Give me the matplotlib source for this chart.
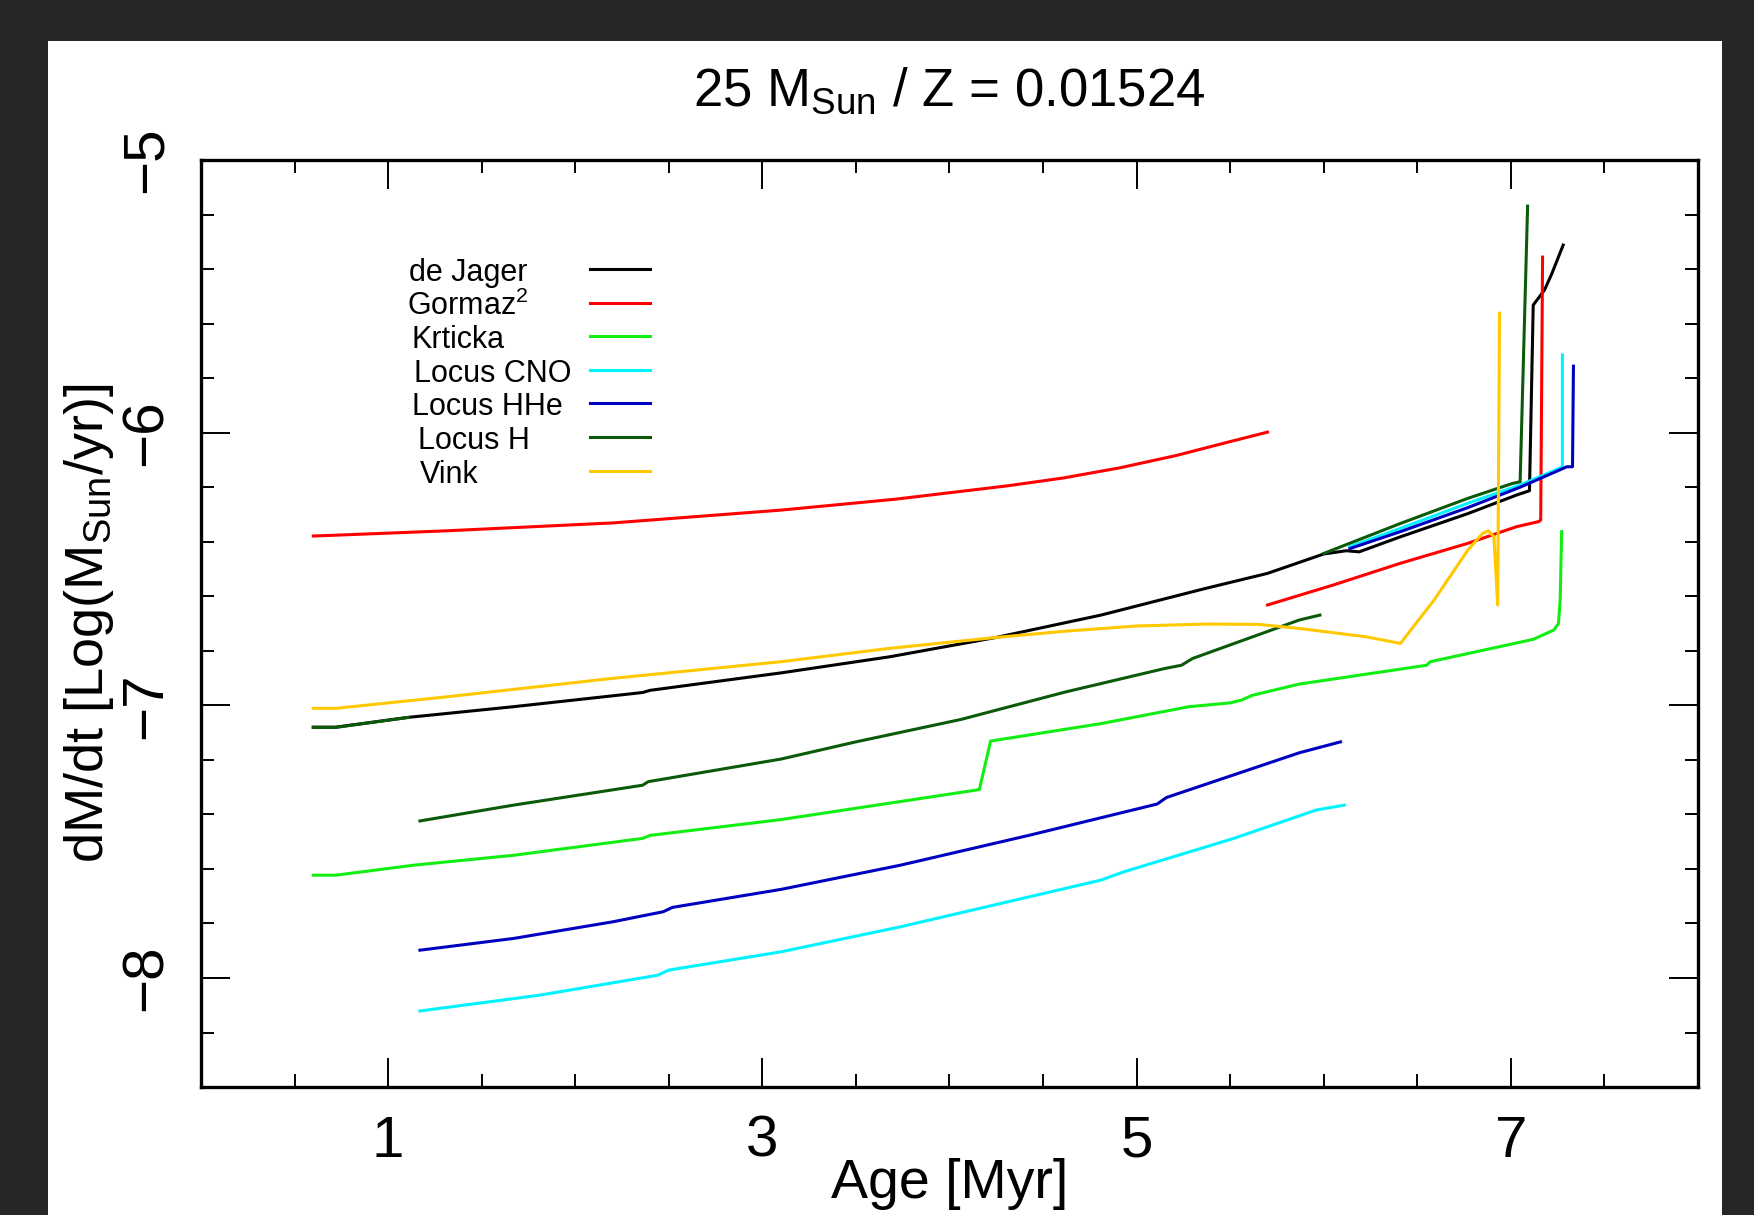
import numpy as np
import matplotlib.pyplot as plt
from matplotlib.patches import Rectangle
from matplotlib.ticker import MultipleLocator

plt.rcParams['font.family'] = ['Liberation Sans', 'DejaVu Sans']
plt.rcParams['mathtext.fontset'] = 'custom'
plt.rcParams['mathtext.rm'] = 'Liberation Sans'
plt.rcParams['mathtext.it'] = 'Liberation Sans:italic'
plt.rcParams['axes.unicode_minus'] = True

nan = np.nan

# series (age in Myr, log mass loss), nan = gap
dejager_age = [0.60, 0.72, 1.11, 1.67, 2.36, 2.40, 3.10, 3.68, 4.25, 4.81, 5.37, 5.70, 6.00,
               6.12, 6.19, 6.41, 6.77, 7.03, 7.10, 7.12, 7.18, 7.22, 7.28]
dejager_mdot = [-7.08, -7.08, -7.044, -7.005, -6.953, -6.945, -6.881, -6.822, -6.751, -6.669,
                -6.571, -6.516, -6.445, -6.433, -6.437, -6.382, -6.297, -6.229, -6.213, -5.532,
                -5.477, -5.416, -5.312]

gormaz_age = [0.60, 0.72, 1.31, 2.20, 3.10, 3.71, 4.31, 4.61, 4.91, 5.21, 5.51, 5.70, nan,
              5.70, 6.05, 6.41, 6.77, 7.03, 7.15, 7.16, 7.17]
gormaz_mdot = [-6.379, -6.376, -6.360, -6.331, -6.284, -6.244, -6.195, -6.166, -6.129, -6.084,
               -6.031, -5.998, nan,
               -6.632, -6.559, -6.479, -6.406, -6.345, -6.326, -6.320, -5.356]

krticka_age = [0.60, 0.72, 1.14, 1.67, 2.36, 2.40, 3.10, 4.16, 4.22, 4.81, 5.28, 5.50, 5.56,
               5.62, 5.87, 6.55, 6.57, 7.12, 7.23, 7.255, 7.264, 7.272]
krticka_mdot = [-7.623, -7.623, -7.586, -7.550, -7.488, -7.477, -7.419, -7.309, -7.131, -7.067,
                -7.005, -6.991, -6.981, -6.963, -6.922, -6.853, -6.840, -6.758, -6.724, -6.700,
                -6.614, -6.363]

cno_age = [1.17, 1.81, 2.44, 2.50, 3.10, 3.74, 4.81, 4.93, 5.52, 5.96, 6.11, nan,
           6.14, 6.41, 6.77, 7.05, 7.26, 7.276, 7.276]
cno_mdot = [-8.121, -8.063, -7.990, -7.971, -7.904, -7.812, -7.641, -7.611, -7.488, -7.384,
            -7.366, nan,
            -6.418, -6.351, -6.259, -6.192, -6.131, -6.125, -5.715]

hhe_age = [1.17, 1.67, 2.20, 2.47, 2.52, 3.10, 3.74, 4.43, 5.11, 5.16, 5.87, 6.09, nan,
           6.14, 6.41, 6.77, 7.05, 7.30, 7.33, 7.335]
hhe_mdot = [-7.898, -7.855, -7.794, -7.757, -7.741, -7.675, -7.586, -7.476, -7.362, -7.338,
            -7.174, -7.134, nan,
            -6.425, -6.363, -6.275, -6.200, -6.125, -6.125, -5.756]

locush_age = [0.60, 0.72, 1.11, nan,
              1.17, 1.67, 2.36, 2.39, 3.10, 3.50, 4.06, 4.62, 5.15, 5.24, 5.30, 5.87, 5.98, nan,
              6.00, 6.41, 6.77, 7.01, 7.05, 7.09]
locush_mdot = [-7.081, -7.081, -7.044, nan,
               -7.424, -7.366, -7.293, -7.280, -7.197, -7.134, -7.052, -6.951, -6.865, -6.853,
               -6.828, -6.687, -6.669, nan,
               -6.443, -6.333, -6.241, -6.186, -6.180, -5.169]

vink_age = [0.60, 0.72, 1.31, 2.20, 3.10, 3.68, 4.25, 4.62, 5.00, 5.37, 5.65, 5.87, 6.23,
            6.41, 6.59, 6.77, 6.85, 6.88, 6.91, 6.93, 6.94]
vink_mdot = [-7.011, -7.011, -6.969, -6.901, -6.840, -6.791, -6.751, -6.728, -6.709, -6.702,
             -6.703, -6.718, -6.749, -6.773, -6.614, -6.431, -6.369, -6.360, -6.382, -6.632,
             -5.562]

labels = ['de Jager', 'Gormaz$^2$', 'Krticka', 'Locus CNO', 'Locus HHe', 'Locus H', 'Vink']
colors = ['#000000', '#ff0000', '#11ee11', '#00f4ff', '#0000c0', '#0a5a0a', '#ffc800']
ages = [dejager_age, gormaz_age, krticka_age, cno_age, hhe_age, locush_age, vink_age]
mdots = [dejager_mdot, gormaz_mdot, krticka_mdot, cno_mdot, hhe_mdot, locush_mdot, vink_mdot]

fig = plt.figure(figsize=(17.54, 12.15), dpi=100, facecolor='#262626')
fig.add_artist(Rectangle((0.0274, 0.0), 0.9544, 0.9663, transform=fig.transFigure,
                         facecolor='white', edgecolor='none', zorder=-5))
ax = fig.add_axes([0.1146, 0.1053, 0.8534, 0.763])

for a, m, c in zip(ages, mdots, colors):
    ax.plot(a, m, color=c, lw=2.2)

# key: names on the left, line samples on the right
text_shift = [0.0, -0.0013, 0.0013, 0.0033, 0.002, 0.006, 0.0073]
for i, (lab, c) in enumerate(zip(labels, colors)):
    yk = 0.8824 - i * 0.03625
    ax.plot([0.2599, 0.2999], [yk, yk], color=c, lw=2.2, transform=ax.transAxes)
    ax.text(0.139 + text_shift[i], yk - 0.0128, lab, fontsize=22, ha='left', va='baseline',
            transform=ax.transAxes)

ax.set_xlim(0, 8)
ax.set_ylim(-8.4, -5)
ax.xaxis.set_major_locator(MultipleLocator(2))
ax.xaxis.set_minor_locator(MultipleLocator(0.5))
ax.set_xticks([1, 3, 5, 7])
ax.yaxis.set_major_locator(MultipleLocator(1))
ax.yaxis.set_minor_locator(MultipleLocator(0.2))

ax.tick_params(which='both', direction='in', top=True, right=True)
ax.tick_params(which='major', length=21, width=1.4, labelsize=42, pad=20)
ax.tick_params(which='minor', length=9.7, width=1.4)
for lab in ax.get_yticklabels():
    lab.set_rotation(90)
    lab.set_va('center')
for sp in ax.spines.values():
    sp.set_linewidth(2.4)

ax.set_xlabel('Age [Myr]', fontsize=40, labelpad=-8)
ax.set_ylabel(r'dM/dt [Log(M$_{\mathrm{Sun}}$/yr)]', fontsize=39, labelpad=2)
ax.set_title(r'25 M$_{\mathrm{Sun}}$ / Z = 0.01524', fontsize=38, pad=39)

fig.savefig('out.png', dpi=100, facecolor=fig.get_facecolor())
